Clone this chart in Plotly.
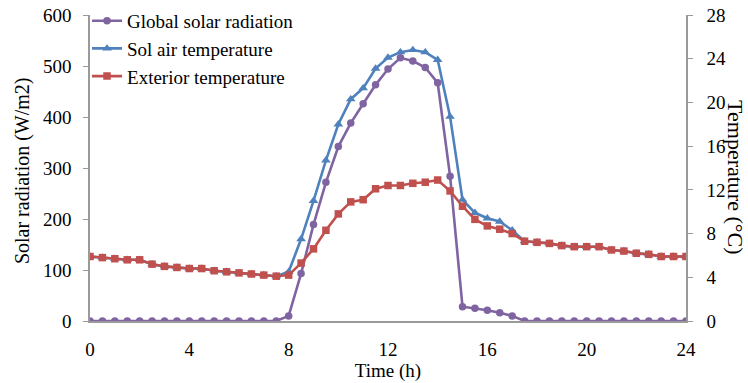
import plotly.graph_objects as go

time_h = [i * 0.5 for i in range(49)]

global_radiation = [0, 0, 0, 0, 0, 0, 0, 0, 0, 0, 0, 0, 0, 0, 0, 0,
                    10, 93, 189, 272, 342, 388, 426, 463, 494, 516, 510, 497, 467, 284,
                    28, 25, 21, 16, 10,
                    0, 0, 0, 0, 0, 0, 0, 0, 0, 0, 0, 0, 0, 0]

exterior_temp = [5.9, 5.8, 5.7, 5.6, 5.6, 5.2, 5.0, 4.9, 4.8, 4.8, 4.6, 4.5, 4.4, 4.3, 4.2, 4.1,
                 4.2, 5.3, 6.6, 8.3, 9.8, 10.9, 11.1, 12.1, 12.4, 12.4, 12.6, 12.7, 12.9, 11.9,
                 10.5, 9.3, 8.7, 8.4, 8.0, 7.3, 7.2, 7.1, 6.9, 6.8, 6.8, 6.8, 6.5, 6.4, 6.2, 6.1,
                 5.9, 5.9, 5.9]

sol_air_temp = [5.9, 5.8, 5.7, 5.6, 5.6, 5.2, 5.0, 4.9, 4.8, 4.8, 4.6, 4.5, 4.4, 4.3, 4.2, 4.1,
                4.5, 7.5, 11.0, 14.7, 18.0, 20.3, 21.3, 23.1, 24.1, 24.6, 24.8, 24.6, 23.9, 18.7,
                11.1, 9.9, 9.4, 9.1, 8.3, 7.3, 7.2, 7.1, 6.9, 6.8, 6.8, 6.8, 6.5, 6.4, 6.2, 6.1,
                5.9, 5.9, 5.9]

x_ticks = [0, 4, 8, 12, 16, 20, 24]
left_ticks = [0, 100, 200, 300, 400, 500, 600]
right_ticks = [0, 4, 8, 12, 16, 20, 24, 28]

FONT = "Liberation Serif, Times New Roman, serif"
AXIS_COLOR = "#9a9a9a"
TICK_SIZE = 19

fig = go.Figure()
fig.add_trace(go.Scatter(
    x=time_h, y=global_radiation, name="Global solar radiation", mode="lines+markers",
    line=dict(color="#8064A2", width=2.6), marker=dict(symbol="circle", size=7.5, color="#8064A2"),
    yaxis="y"))
fig.add_trace(go.Scatter(
    x=time_h, y=sol_air_temp, name="Sol air temperature", mode="lines+markers",
    line=dict(color="#4F81BD", width=2.6), marker=dict(symbol="triangle-up", size=8.5, color="#4F81BD"),
    yaxis="y2"))
fig.add_trace(go.Scatter(
    x=time_h, y=exterior_temp, name="Exterior temperature", mode="lines+markers",
    line=dict(color="#C0504D", width=2.6), marker=dict(symbol="square", size=7.5, color="#C0504D"),
    yaxis="y2"))

fig.update_layout(
    width=748, height=383,
    margin=dict(l=90, r=62, t=15, b=62, autoexpand=False),
    paper_bgcolor="white", plot_bgcolor="white",
    font=dict(family=FONT, size=TICK_SIZE, color="black"),
    showlegend=True,
    legend=dict(x=-0.005, y=1.043, xanchor="left", yanchor="top",
                bgcolor="rgba(0,0,0,0)", font=dict(family=FONT, size=19),
                tracegroupgap=0, itemwidth=30),
    xaxis=dict(range=[0, 24], tickvals=x_ticks, ticktext=[str(v) for v in x_ticks],
               showgrid=False, zeroline=False, showline=True, linecolor=AXIS_COLOR, linewidth=1.5,
               ticks="", ticklabelstandoff=10, tickfont=dict(family=FONT, size=TICK_SIZE),
               title=dict(text="Time (h)", font=dict(family=FONT, size=19), standoff=0)),
    yaxis=dict(range=[0, 600], tickvals=left_ticks, showgrid=False, zeroline=False,
               showline=True, linecolor=AXIS_COLOR, linewidth=1.5, ticks="outside",
               ticklen=5, tickcolor=AXIS_COLOR, ticklabelstandoff=8,
               tickfont=dict(family=FONT, size=TICK_SIZE)),
    yaxis2=dict(range=[0, 28], tickvals=right_ticks, overlaying="y", side="right",
                showgrid=False, zeroline=False, showline=True, linecolor=AXIS_COLOR, linewidth=1.5,
                ticks="outside", ticklen=5, tickcolor=AXIS_COLOR, ticklabelstandoff=10,
                tickfont=dict(family=FONT, size=TICK_SIZE)),
)

fig.add_annotation(text="Solar radiation (W/m2)", xref="paper", yref="paper",
                   x=-0.114, y=0.49, textangle=-90, showarrow=False,
                   font=dict(family=FONT, size=20), xanchor="center", yanchor="middle")
fig.add_annotation(text="Temperature (°C)", xref="paper", yref="paper",
                   x=1.084, y=0.47, textangle=90, showarrow=False,
                   font=dict(family=FONT, size=22), xanchor="center", yanchor="middle")

fig.write_html("out.html", post_script="document.body.style.margin='0';",
               config={"displayModeBar": False})
